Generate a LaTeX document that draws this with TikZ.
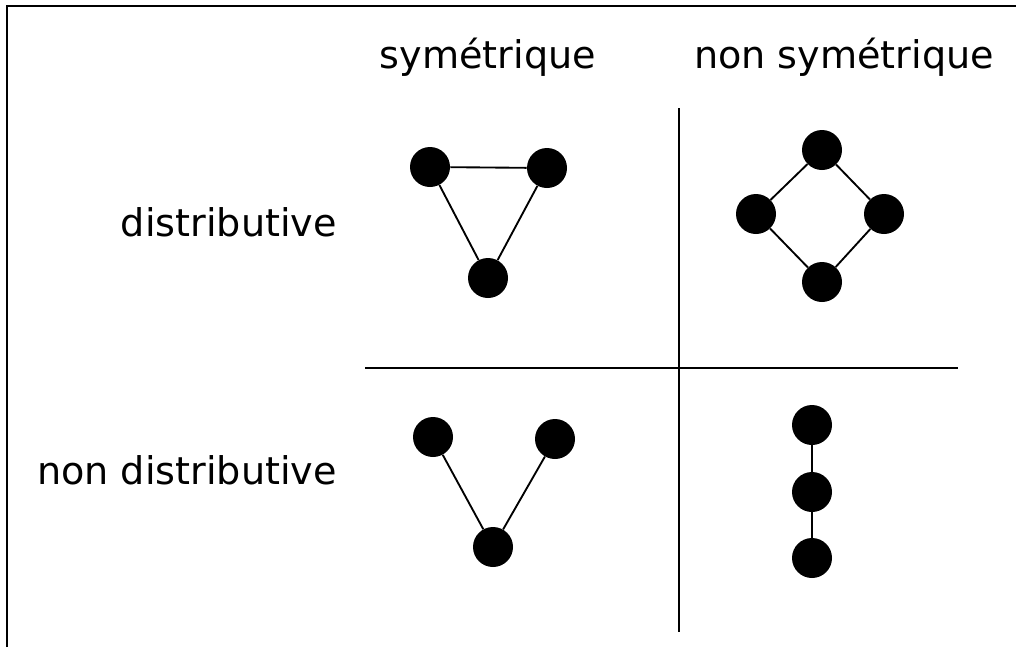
\documentclass[tikz,border=0pt]{standalone}
\usepackage{fontspec}
\setmainfont{DejaVu Sans}
\usetikzlibrary{positioning}

\tikzset{
  dot/.style={circle, fill=black, inner sep=0pt, minimum size=30pt},
  label text/.style={inner sep=0.75pt, font=\fontsize{28.6}{34}\selectfont},
  edge line/.style={line width=1.4pt},
  grid line/.style={line width=1pt}
}

\begin{document}
\begin{tikzpicture}[x=0.75pt,y=0.75pt,yscale=-1,xscale=1]
\useasboundingbox (0,0) rectangle (1016,647);

% frame (top and left only)
\coordinate (fbl) at (7,647);
\coordinate (ftl) at (7,6);
\coordinate (ftr) at (1016,6);
\draw [line width=1.5pt] (fbl) -- (ftl) -- (ftr);

% separating lines
\coordinate (vtop) at (679,108);
\coordinate (vbot) at (679,632);
\coordinate (hleft) at (365,368);
\coordinate (hright) at (958,368);
\draw [grid line] (vtop) -- (vbot);
\draw [grid line] (hleft) -- (hright);

% headings
\node [label text] (sym) at (488,57) {symétrique};
\node [label text] (nonsym) at (844,57) {non symétrique};
\node [label text, anchor=east] (dist) at (338,222) {distributive};
\node [label text, anchor=east] (nondist) at (338,470) {non distributive};

% symetrique, distributive
\node [dot] (a1) at (430,167) {};
\node [dot] (a2) at (547,168) {};
\node [dot] (a3) at (488,278) {};
\draw [edge line] (a1) -- (a2) -- (a3) -- (a1);

% non symetrique, distributive
\node [dot] (b1) at (822,150) {};
\node [dot] (b2) at (756,214) {};
\node [dot] (b3) at (884,214) {};
\node [dot] (b4) at (822,282) {};
\draw [edge line] (b1) -- (b2) -- (b4) -- (b3) -- (b1);

% symetrique, non distributive
\node [dot] (c1) at (433,437) {};
\node [dot] (c2) at (555,439) {};
\node [dot] (c3) at (493,547) {};
\draw [edge line] (c1) -- (c3) -- (c2);

% non symetrique, non distributive
\node [dot] (d1) at (812,425) {};
\node [dot] (d2) at (812,492) {};
\node [dot] (d3) at (812,558) {};
\draw [edge line] (d1) -- (d2) -- (d3);

\end{tikzpicture}
\end{document}
